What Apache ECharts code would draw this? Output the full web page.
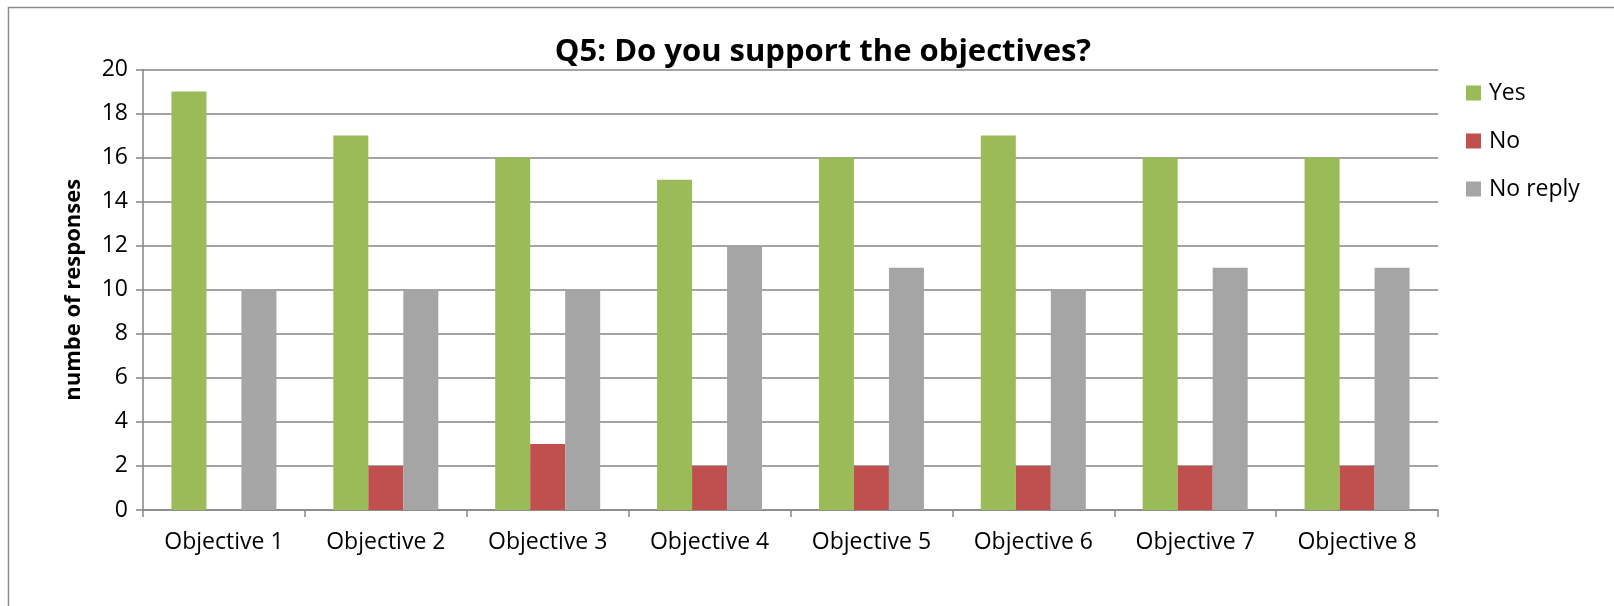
<!DOCTYPE html>
<html>
<head>
<meta charset="utf-8">
<script src="https://cdn.jsdelivr.net/npm/echarts@6/dist/echarts.min.js"></script>
<style>
  html, body { margin: 0; padding: 0; background: #fff; }
  #app { width: 1614px; height: 606px; }
</style>
</head>
<body>
<div id="app"></div>
<script>
const categories = ["Objective 1", "Objective 2", "Objective 3", "Objective 4",
  "Objective 5", "Objective 6", "Objective 7", "Objective 8"];
const yesValues = [19, 17, 16, 15, 16, 17, 16, 16];
const noValues = [0, 2, 3, 2, 2, 2, 2, 2];
const noReplyValues = [10, 10, 10, 12, 11, 10, 11, 11];

const FONT = "'Open Sans', sans-serif";
const GRID_COLOR = "#868686";

function barSeries(name, data, color) {
  return {
    name,
    type: "bar",
    data,
    barWidth: 35,
    barGap: "0%",
    itemStyle: { color },
    animation: false
  };
}

const chart = echarts.init(document.getElementById("app"));
chart.setOption({
  backgroundColor: "#fff",
  textStyle: { fontFamily: FONT },
  title: {
    text: "Q5: Do you support the objectives?",
    left: 818,
    top: 32,
    textAlign: "center",
    textStyle: { fontFamily: FONT, fontSize: 31, fontWeight: "bold", color: "#000" }
  },
  graphic: [{
    type: "rect",
    shape: { x: 8.5, y: 7.5, width: 1800, height: 800 },
    style: { fill: null, stroke: "#8c8c8c", lineWidth: 1.5 },
    silent: true
  }],
  legend: {
    orient: "vertical",
    left: 1461,
    top: 76,
    itemWidth: 15,
    itemHeight: 15,
    itemGap: 24,
    icon: "rect",
    textStyle: { fontFamily: FONT, fontSize: 23, lineHeight: 24, color: "#000", padding: [0, 0, 0, 3] },
    data: ["Yes", "No", "No reply"]
  },
  grid: { left: 143, top: 69.5, right: 176, bottom: 96 },
  xAxis: {
    type: "category",
    data: categories,
    axisLine: { lineStyle: { color: GRID_COLOR, width: 1.5 } },
    axisTick: { show: true, length: 7, lineStyle: { color: GRID_COLOR, width: 1.5 } },
    axisLabel: { fontFamily: FONT, fontSize: 23, color: "#000", margin: 21 }
  },
  yAxis: {
    type: "value",
    min: 0,
    max: 20,
    interval: 2,
    name: "numbe of responses",
    nameLocation: "middle",
    nameGap: 58,
    nameTextStyle: { fontFamily: FONT, fontSize: 22, fontWeight: "bold", color: "#000" },
    axisLine: { show: true, lineStyle: { color: GRID_COLOR, width: 1.5 } },
    axisTick: { show: true, length: 7, lineStyle: { color: GRID_COLOR, width: 1.5 } },
    axisLabel: { fontFamily: FONT, fontSize: 23, color: "#000", margin: 15 },
    splitLine: { show: true, lineStyle: { color: GRID_COLOR, width: 1.5 } }
  },
  series: [
    barSeries("Yes", yesValues, "#9BBB59"),
    barSeries("No", noValues, "#C0504D"),
    barSeries("No reply", noReplyValues, "#A5A5A5")
  ]
});
</script>
</body>
</html>
